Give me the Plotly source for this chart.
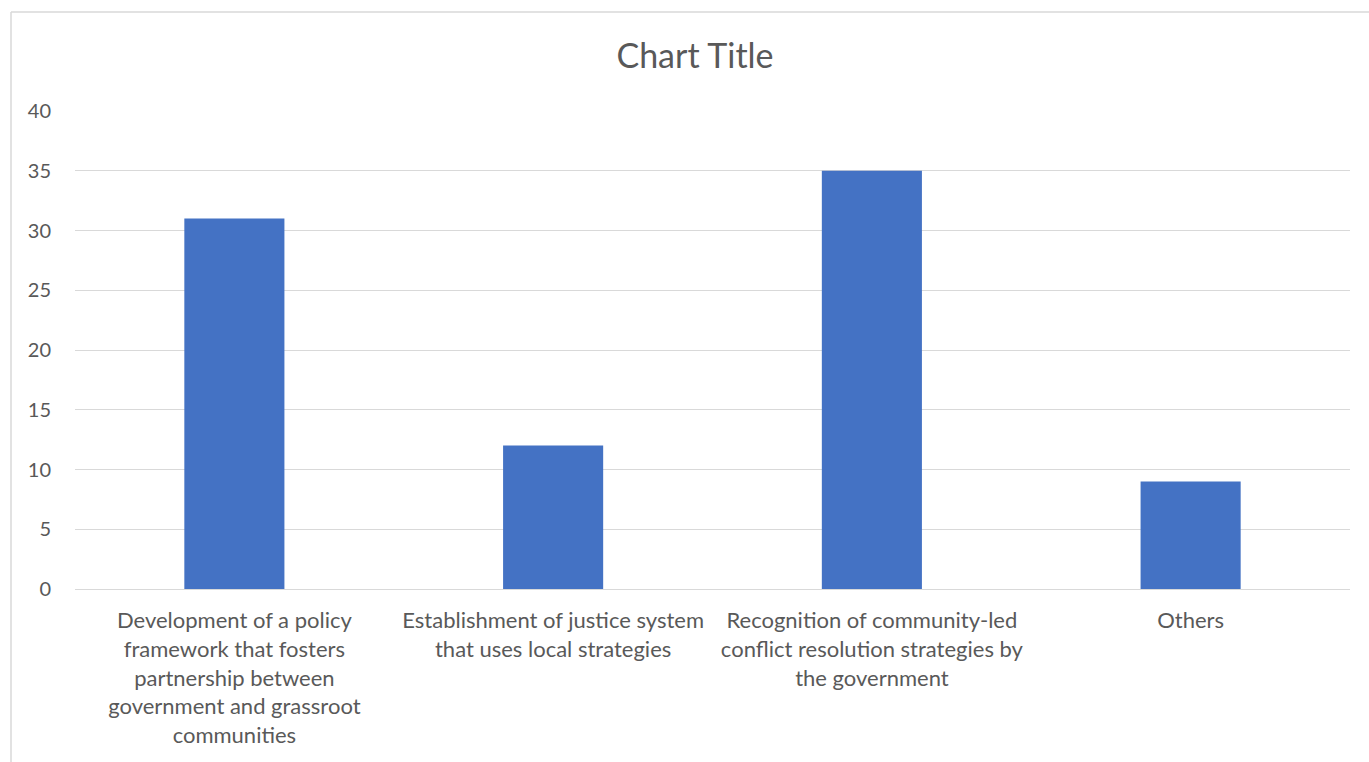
import plotly.graph_objects as go

categories = [
    "Development of a policy<br>framework that fosters<br>partnership between<br>government and grassroot<br>communities",
    "Establishment of justice system<br>that uses local strategies",
    "Recognition of community-led<br>conflict resolution strategies by<br>the government",
    "Others",
]
values = [31, 12, 35, 9]
y_ticks = [0, 5, 10, 15, 20, 25, 30, 35, 40]

W, H = 1369, 762
ML, MR, MT, MB = 75, 19, 111, 173
FONT = "Lato, 'Open Sans', sans-serif"
GREY = "#595959"

fig = go.Figure(go.Bar(
    x=categories, y=values,
    marker=dict(color="#4472C4", line=dict(width=0)),
    hoverinfo="x+y",
))

pw = W - ML - MR
ph = H - MT - MB
def px_x(p):
    return (p - ML) / pw
def px_y(p):
    return (H - MB - p) / ph

fig.update_layout(
    width=W, height=H,
    margin=dict(l=ML, r=MR, t=MT, b=MB, pad=0),
    paper_bgcolor="white", plot_bgcolor="white",
    bargap=0.686,
    showlegend=False,
    title=dict(text="Chart Title", x=695 / W, xref="container", xanchor="center",
               y=1 - 56 / H, yref="container", yanchor="middle",
               font=dict(family=FONT, size=34, color=GREY)),
    font=dict(family=FONT, color=GREY),
    xaxis=dict(showgrid=False, showline=True, linecolor="#d9d9d9", linewidth=1,
               ticks="", tickfont=dict(size=22, color=GREY), ticklabelstandoff=12,
               fixedrange=True),
    yaxis=dict(range=[0, 40], tickvals=y_ticks, showgrid=True, gridcolor="#d9d9d9",
               gridwidth=1, zeroline=False, showline=False, ticks="",
               tickfont=dict(size=20, color=GREY), ticklabelstandoff=23,
               fixedrange=True),
    shapes=[
        dict(type="line", xref="paper", yref="paper",
             x0=px_x(11), x1=px_x(11), y0=px_y(12), y1=px_y(H + 5),
             line=dict(color="#d9d9d9", width=1.5)),
        dict(type="line", xref="paper", yref="paper",
             x0=px_x(11), x1=px_x(W + 5), y0=px_y(12), y1=px_y(12),
             line=dict(color="#d9d9d9", width=1.5)),
    ],
)

fig.write_html("out.html")
